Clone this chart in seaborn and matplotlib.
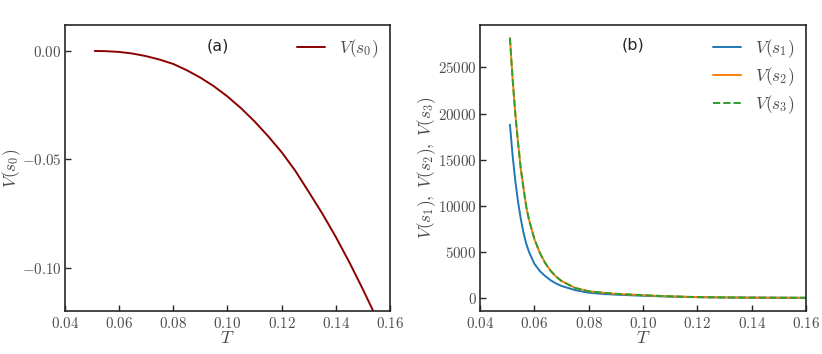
import numpy as np
import pandas as pd
import seaborn as sns
import matplotlib
matplotlib.use('Agg')
import matplotlib.pyplot as plt
from matplotlib.ticker import FuncFormatter

# panel (a): V(s0)
t_a = [0.051, 0.055, 0.060, 0.065, 0.070, 0.075, 0.080, 0.085, 0.090, 0.095,
       0.100, 0.105, 0.110, 0.115, 0.120, 0.125, 0.130, 0.135, 0.140, 0.145,
       0.150, 0.154]
v_s0 = [0.0, -0.0001, -0.00045, -0.0012, -0.0024, -0.0040, -0.0060, -0.0089,
        -0.0123, -0.0163, -0.0210, -0.0264, -0.0325, -0.0393, -0.0467, -0.0552,
        -0.0650, -0.0750, -0.0858, -0.0975, -0.1100, -0.1205]

# panel (b): V(s1), V(s2), V(s3)
t_b = [0.051, 0.052, 0.053, 0.054, 0.055, 0.056, 0.057, 0.058, 0.060, 0.062,
       0.064, 0.066, 0.068, 0.070, 0.075, 0.080, 0.085, 0.090, 0.100, 0.110,
       0.120, 0.130, 0.140, 0.150, 0.160]
v_s1 = [18800, 15400, 12650, 10400, 8570, 7080, 5890, 5010, 3710, 2920,
        2370, 1920, 1570, 1300, 855, 570, 445, 360, 240, 150,
        90, 55, 37, 25, 18]
v_s2 = [28200, 23700, 19900, 16800, 14000, 11900, 9900, 8500, 6400, 4900,
        3780, 2940, 2310, 1840, 1090, 730, 580, 450, 300, 175,
        95, 60, 40, 28, 20]
v_s3 = v_s2

sns.set_theme(style='ticks')
plt.rcParams.update({
    'font.family': ['DejaVu Sans'],
    'mathtext.fontset': 'cm',
    'text.color': '0.3',
    'axes.labelcolor': '0.3',
    'xtick.color': '0.15',
    'ytick.color': '0.15',
    'xtick.labelcolor': '0.3',
    'ytick.labelcolor': '0.3',
    'axes.edgecolor': '0.15',
    'axes.linewidth': 1.2,
    'xtick.direction': 'in',
    'ytick.direction': 'in',
    'font.size': 10,
})

fig = plt.figure(figsize=(8.22, 3.54), dpi=100)
ax1 = fig.add_axes([0.079, 0.1215, 0.3954, 0.808])
ax2 = fig.add_axes([0.584, 0.1215, 0.3966, 0.808])

df_a = pd.DataFrame({'T': t_a, 'V': v_s0})
sns.lineplot(data=df_a, x='T', y='V', ax=ax1, color='#8b0000', lw=1.4,
             label=r'$V(s_0)$')
ax1.set_xlim(0.04, 0.16)
ax1.set_ylim(-0.12, 0.012)
ax1.set_yticks([0.0, -0.05, -0.10])
ax1.yaxis.set_major_formatter(FuncFormatter(lambda v, p: f'${v:.2f}$'))
ax1.set_ylabel(r'$V(s_0)$', fontsize=12.5, va='center')
ax1.yaxis.set_label_coords(-0.164, 0.5)
ax1.text(0.47, 0.925, '(a)', transform=ax1.transAxes, ha='center', va='center',
         fontsize=11.5, color='0.15')

df_b = pd.DataFrame({'T': t_b, 's1': v_s1, 's2': v_s2, 's3': v_s3})
sns.lineplot(data=df_b, x='T', y='s1', ax=ax2, color='#1f77b4', lw=1.4,
             label=r'$V(s_1)$')
sns.lineplot(data=df_b, x='T', y='s2', ax=ax2, color='#ff7f0e', lw=1.4,
             label=r'$V(s_2)$')
sns.lineplot(data=df_b, x='T', y='s3', ax=ax2, color='#2ca02c', lw=1.4,
             linestyle='--', label=r'$V(s_3)$')
ax2.set_xlim(0.04, 0.16)
ax2.set_ylim(-1410, 29610)
ax2.set_yticks([0, 5000, 10000, 15000, 20000, 25000])
ax2.yaxis.set_major_formatter(FuncFormatter(lambda v, p: f'${v:.0f}$'))
ax2.set_ylabel(r'$V(s_1),\ V(s_2),\ V(s_3)$', fontsize=12.5, va='center')
ax2.yaxis.set_label_coords(-0.164, 0.5)
ax2.text(0.47, 0.93, '(b)', transform=ax2.transAxes, ha='center', va='center',
         fontsize=11.5, color='0.15')

for ax in (ax1, ax2):
    ax.set_xticks([0.04, 0.06, 0.08, 0.10, 0.12, 0.14, 0.16])
    ax.xaxis.set_major_formatter(FuncFormatter(lambda v, p: f'${v:.2f}$'))
    ax.set_xlabel(r'$T$', fontsize=13, labelpad=-1)
    ax.tick_params(labelsize=10.8, length=4, width=1)
    ax.tick_params(axis='y', pad=2.5)
    ax.legend(loc='upper right', frameon=False, fontsize=12.5,
              handlelength=1.6, labelspacing=0.3, borderaxespad=0.3)

fig.savefig('out.png', dpi=100)
